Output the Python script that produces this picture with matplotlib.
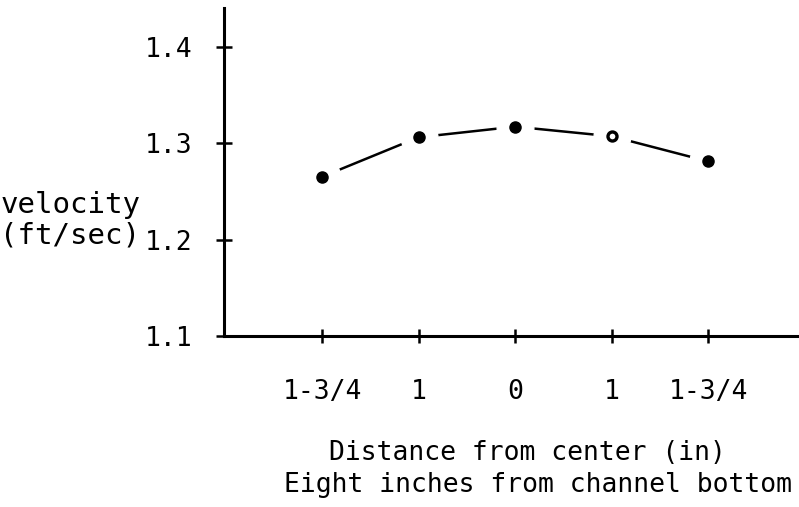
import matplotlib
matplotlib.use("Agg")
import matplotlib.pyplot as plt

# positions across the channel, left to right
positions = [1, 2, 3, 4, 5]
tick_labels = ["1-3/4", "1", "0", "1", "1-3/4"]
velocity = [1.265, 1.306, 1.317, 1.307, 1.281]
hollow = [False, False, False, True, False]

y_ticks = [1.1, 1.2, 1.3, 1.4]

plt.rcParams['font.family'] = 'DejaVu Sans Mono'

fig = plt.figure(figsize=(7.99, 5.07), dpi=100)
ax = fig.add_axes([224/799, 171/507, 575/799, 328/507])

# curve, broken near each point (white halo under the dots)
ax.plot(positions, velocity, color='black', lw=1.8, zorder=1, clip_on=False)
ax.scatter(positions, velocity, s=700, color='white', zorder=2, clip_on=False)
for x, v, h in zip(positions, velocity, hollow):
    if h:
        ax.plot(x, v, 'o', ms=6.5, mfc='white', mec='black', mew=2.4, zorder=3)
    else:
        ax.plot(x, v, 'o', ms=8, color='black', zorder=3)

ax.set_xlim(-0.015, 5.94)
ax.set_ylim(1.1, 1.44)
ax.set_xticks(positions)
ax.set_xticklabels(tick_labels)
ax.set_yticks(y_ticks)
ax.set_yticklabels([f"{t:.1f}" for t in y_ticks])

ax.spines['top'].set_visible(False)
ax.spines['right'].set_visible(False)
for s in ['left', 'bottom']:
    ax.spines[s].set_linewidth(2.2)

ax.tick_params(axis='both', direction='inout', width=1.8, labelsize=19)
ax.tick_params(axis='x', length=10, pad=26)
ax.tick_params(axis='y', length=12, pad=17)

fig.text(1/799, 1 - 205/507, "velocity", fontsize=21, ha='left', va='center')
fig.text(0/799, 1 - 236/507, "(ft/sec)", fontsize=21, ha='left', va='center')

fig.text(527/799, 1 - 453/507, "Distance from center (in)", fontsize=19,
         ha='center', va='center')
fig.text(538/799, 1 - 485/507, "Eight inches from channel bottom", fontsize=19,
         ha='center', va='center')

fig.savefig("out.png", dpi=100)
